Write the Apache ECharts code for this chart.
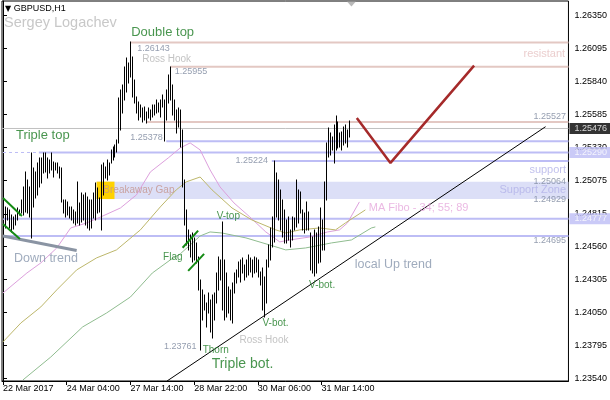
<!DOCTYPE html>
<html><head><meta charset="utf-8">
<script src="https://cdn.jsdelivr.net/npm/echarts@6/dist/echarts.min.js"></script>
<style>html,body{margin:0;padding:0;background:#fff}#c{width:610px;height:400px}</style>
</head><body><div id="c"></div>
<script>
// ---- data (GBPUSD H1, bar highs / lows) ----
const highs = [
1.24883,1.24868,1.24860,1.24845,1.24806,1.24790,1.24806,1.24860,1.24845,1.24922,
1.25023,1.25139,1.25077,1.25023,1.25286,1.25170,1.25139,1.25209,1.25248,1.25248,
1.25286,1.25286,1.25248,1.25232,1.25286,1.25217,1.25209,1.25209,1.25178,1.25170,
1.24922,1.24922,1.24907,1.24868,1.24868,1.24845,1.24829,1.25062,1.24899,1.24976,
1.24961,1.24976,1.24945,1.24922,1.24922,1.24976,1.25054,1.25015,1.24938,1.25193,
1.25209,1.25178,1.25232,1.25209,1.25310,1.25333,1.25348,1.25387,1.25713,1.25775,
1.25813,1.25953,1.26023,1.25984,1.26143,1.26030,1.25852,1.25720,1.25682,1.25658,
1.25635,1.25643,1.25604,1.25635,1.25620,1.25658,1.25658,1.25697,1.25674,1.25697,
1.25736,1.25697,1.25775,1.25891,1.25955,1.25813,1.25697,1.25620,1.25635,1.25620,
1.25465,1.25077,1.24845,1.24690,1.24651,1.24666,1.24628,1.24589,1.24480,1.24302,
1.24225,1.24186,1.24124,1.24201,1.24147,1.24186,1.24201,1.24356,1.24480,1.24457,
1.24752,1.24457,1.24356,1.24248,1.24225,1.24279,1.24356,1.24380,1.24442,1.24457,
1.24473,1.24418,1.24457,1.24496,1.24473,1.24457,1.24480,1.24473,1.24457,1.24364,
1.24395,1.24325,1.24457,1.24573,1.24705,1.24790,1.25224,1.25131,1.25077,1.25000,
1.24922,1.24845,1.24767,1.24790,1.24690,1.24790,1.24783,1.25077,1.25000,1.24984,
1.24845,1.24821,1.24907,1.24829,1.24666,1.24635,1.24690,1.24666,1.24713,1.24860,
1.24767,1.25062,1.25364,1.25480,1.25441,1.25410,1.25503,1.25573,1.25527,1.25441,
1.25449,1.25488,1.25503,1.25465,1.25534];
const lows = [
1.24783,1.24705,1.24767,1.24705,1.24674,1.24697,1.24728,1.24767,1.24806,1.24821,
1.24806,1.24829,1.24821,1.24790,1.24628,1.24868,1.24938,1.24961,1.25023,1.25054,
1.25131,1.25139,1.25093,1.25131,1.25155,1.25100,1.25155,1.25131,1.25093,1.24907,
1.24821,1.24790,1.24806,1.24783,1.24767,1.24744,1.24728,1.24744,1.24728,1.24752,
1.24767,1.24728,1.24705,1.24690,1.24705,1.24783,1.24767,1.24821,1.24829,1.24690,
1.24961,1.25093,1.25077,1.25116,1.25209,1.25232,1.25255,1.25294,1.25364,1.25465,
1.25596,1.25697,1.25759,1.25829,1.25875,1.25720,1.25674,1.25596,1.25542,1.25565,
1.25527,1.25542,1.25519,1.25558,1.25542,1.25565,1.25581,1.25596,1.25604,1.25565,
1.25643,1.25378,1.25542,1.25674,1.25697,1.25581,1.25542,1.25441,1.25488,1.25333,
1.25023,1.24728,1.24573,1.24535,1.24480,1.24442,1.24457,1.24434,1.24225,1.23761,
1.23992,1.24070,1.23938,1.24046,1.23899,1.23853,1.23992,1.24124,1.24225,1.24302,
1.24070,1.23992,1.24015,1.24046,1.23992,1.23969,1.24201,1.24279,1.24325,1.24287,
1.24356,1.24302,1.24325,1.24341,1.24364,1.24325,1.24356,1.24364,1.24325,1.24263,
1.24070,1.24015,1.24124,1.24403,1.24457,1.24558,1.24597,1.24790,1.24767,1.24690,
1.24635,1.24589,1.24589,1.24612,1.24558,1.24612,1.24690,1.24713,1.24744,1.24821,
1.24690,1.24666,1.24690,1.24690,1.24380,1.24356,1.24333,1.24356,1.24434,1.24442,
1.24535,1.24535,1.24922,1.25255,1.25271,1.25310,1.25209,1.25310,1.25325,1.25333,
1.25310,1.25348,1.25364,1.25333,1.25410];
const lastPrice = 1.25476;

const tickIdx = [0, 32, 64, 96, 128, 160];
const tickLabels = ['22 Mar 2017', '24 Mar 04:00', '27 Mar 14:00', '28 Mar 22:00', '30 Mar 06:00', '31 Mar 14:00'];
const priceTicks = [1.23540, 1.23795, 1.24050, 1.24305, 1.24560, 1.24815, 1.25075, 1.25330, 1.25585, 1.25840, 1.26095, 1.26350];

// moving averages 34 / 55 / 89 : [barIndex, price]
const ma34 = [[0,1.24201],[12,1.24356],[19,1.24434],[27,1.24550],[34,1.24705],[42,1.24744],[49,1.24790],[59,1.24860],[67,1.24961],[74,1.25139],[83,1.25248],[89,1.25325],[94,1.25364],[99,1.25310],[104,1.25155],[109,1.25023],[116,1.24899],[124,1.24790],[132,1.24674],[139,1.24597],[144,1.24612],[154,1.24635],[163,1.24674],[169,1.24690],[173,1.24744],[179,1.24907]];
const ma55 = [[0,1.23822],[9,1.23969],[19,1.24093],[27,1.24225],[37,1.24380],[47,1.24473],[57,1.24535],[69,1.24690],[79,1.24868],[87,1.25000],[92,1.25062],[99,1.25100],[105,1.25000],[115,1.24860],[125,1.24767],[137,1.24690],[142,1.24666],[149,1.24690],[159,1.24705],[167,1.24690],[172,1.24744],[182,1.24845]];
const ma89 = [[10,1.23527],[24,1.23705],[40,1.23938],[52,1.24046],[64,1.24170],[75,1.24356],[84,1.24457],[89,1.24504],[94,1.24573],[99,1.24643],[104,1.24674],[110,1.24666],[122,1.24628],[134,1.24573],[142,1.24535],[152,1.24550],[165,1.24589],[175,1.24612],[185,1.24705],[187,1.24713]];

// horizontal levels: [startIndex, price]
const resistLevels = [[64, 1.26143], [84, 1.25955], [72, 1.25527]];
const supportLevels = [[82, 1.25378], [18, 1.25290], [135, 1.25224], [0, 1.24777], [0, 1.24643]];
const dashedLevel = [0, 18, 1.25290];
const zone = [47, 1.25064, 1.24929];
const gapEnd = 56;

// drawn lines
const upTrend = [[82.4, 1.23519], [272.5, 1.25490]];
const downTrend = [[0, 1.24643], [37, 1.24531]];
const projection = [[177.7, 1.25557], [194.6, 1.25209], [236.6, 1.25963]];
const channelA = [[0, 1.24938], [9.5, 1.24798]];
const channelB = [[0, 1.24736], [8.5, 1.24620]];
const flagA = [[90.2, 1.24552], [98, 1.24684]];
const flagB = [[93, 1.24372], [101, 1.24504]];

// text notes: [index, price, text, style, anchor('l' left edge / 'r' right edge)]
const notes = [
  [64.4, 1.26224, 'Double top', 'g13', 'l'],
  [67.4, 1.26092, '1.26143', 'p', 'l'],
  [69.9, 1.26015, 'Ross Hook', 'rh', 'l'],
  [86.3, 1.25914, '1.25955', 'p', 'l'],
  [282.3, 1.26054, 'resistant', 'res', 'r'],
  [282.8, 1.25565, '1.25527', 'p', 'r'],
  [6.5, 1.25426, 'Triple top', 'g13', 'l'],
  [63.9, 1.25403, '1.25378', 'p', 'l'],
  [116.8, 1.25224, '1.25224', 'p', 'l'],
  [282.8, 1.25155, 'support', 'sup', 'r'],
  [282.8, 1.25062, '1.25064', 'p', 'r'],
  [50.4, 1.25000, 'Breakaway Gap', 'gap', 'l'],
  [282.8, 1.25000, 'Support Zone', 'sup', 'r'],
  [282.8, 1.24922, '1.24929', 'p', 'r'],
  [183.7, 1.24860, 'MA Fibo - 34; 55; 89', 'ma', 'l'],
  [107.3, 1.24798, 'V-top', 'g10', 'l'],
  [282.8, 1.24604, '1.24695', 'p', 'r'],
  [80.4, 1.24480, 'Flag', 'g10', 'l'],
  [5.5, 1.24465, 'Down trend', 'tr', 'l'],
  [176.7, 1.24418, 'local Up trend', 'tr', 'l'],
  [153.7, 1.24263, 'V-bot.', 'g10', 'l'],
  [130.3, 1.23969, 'V-bot.', 'g10', 'l'],
  [118.8, 1.23837, 'Ross Hook', 'rh', 'l'],
  [80.9, 1.23783, '1.23761', 'p', 'l'],
  [100.3, 1.23760, 'Thorn', 'g10', 'l'],
  [104.8, 1.23651, 'Triple bot.', 'g14', 'l']
];

// right-axis price boxes: [price, background]
const priceBoxes = [[lastPrice, '#000000'], [1.25290, '#bdbdf5'], [1.24777, '#bdbdf5']];

// ---- chart ----
const X_MAX = 284;
const FONT = '"Liberation Sans", Arial, sans-serif';
const styles = {
  g13: {color: '#1a7a22', fontSize: 13},
  g14: {color: '#1a7a22', fontSize: 14},
  g10: {color: '#1a7a22', fontSize: 10},
  p:   {color: '#7a869c', fontSize: 9},
  rh:  {color: '#b4b4b4', fontSize: 10},
  res: {color: '#e6c2c2', fontSize: 11},
  sup: {color: '#b2b2e8', fontSize: 11},
  gap: {color: '#c4948c', fontSize: 10},
  ma:  {color: '#e6a8dc', fontSize: 11},
  tr:  {color: '#8796ad', fontSize: 12.5}
};

function seg(data, color, width, z, type) {
  return {type: 'line', data: data, symbol: 'none', silent: true, animation: false, z: z,
    lineStyle: {color: color, width: width, type: type || 'solid'}};
}

const series = [];
series.push({type: 'line', data: [], silent: true, z: 1, animation: false,
  markArea: {silent: true, animation: false, data: [
    [{coord: [zone[0], zone[1]], itemStyle: {color: '#dcdff7'}}, {coord: [X_MAX, zone[2]]}],
    [{coord: [zone[0], zone[1]], itemStyle: {color: '#ffd200'}}, {coord: [gapEnd, zone[2]]}]
  ]}});
resistLevels.forEach(l => series.push(seg([[l[0], l[1]], [X_MAX, l[1]]], '#e3c8c3', 2, 2)));
supportLevels.forEach(l => series.push(seg([[l[0], l[1]], [X_MAX, l[1]]], '#bdbdf5', 2, 2)));
series.push(seg([[dashedLevel[0], dashedLevel[2]], [dashedLevel[1], dashedLevel[2]]], '#bdbdf5', 1, 2, [3, 3]));
series.push(seg([[-0.5, lastPrice], [X_MAX, lastPrice]], '#c0c0c0', 1, 2));

series.push(seg(ma34, '#dda0dd', 1, 3));
series.push(seg(ma55, '#bdb76b', 1, 3));
series.push(seg(ma89, '#8fbc8f', 1, 3));

series.push({type: 'custom', z: 4, silent: true, animation: false, clip: true,
  data: highs.map((h, i) => [i, lows[i], h]),
  renderItem: function (params, api) {
    const lo = api.coord([api.value(0), api.value(1)]);
    const hi = api.coord([api.value(0), api.value(2)]);
    const x = Math.round(lo[0]) + 0.5;
    return {type: 'line', shape: {x1: x, y1: Math.round(lo[1]) + 0.5, x2: x, y2: Math.round(hi[1]) - 0.5},
      style: {stroke: '#000', lineWidth: 1}};
  }});

series.push(seg(upTrend, '#000', 1, 5));
series.push(seg(downTrend, '#8a94a3', 3, 5));
series.push(seg(projection, '#a52a2a', 2.5, 5));
[channelA, channelB, flagA, flagB].forEach(d => series.push(seg(d, '#138a13', 2, 5)));

series.push({type: 'scatter', symbolSize: 0, silent: true, animation: false, z: 6,
  data: notes.map(n => ({value: [n[0], n[1]],
    label: Object.assign({show: true, formatter: n[2], position: n[4] === 'r' ? 'left' : 'right',
      distance: 0, fontFamily: FONT}, styles[n[3]])}))});

series.push({type: 'scatter', symbolSize: 0, silent: true, animation: false, z: 10, clip: false,
  data: priceBoxes.map(b => ({value: [X_MAX, b[0]],
    label: {show: true, position: 'right', distance: 1, formatter: b[0].toFixed(5), color: '#fff',
      backgroundColor: b[1], fontSize: 9, fontFamily: FONT, padding: [1, 4, 0, 5], lineHeight: 10}}))});

// chart-shift marker
series.push({type: 'scatter', silent: true, animation: false, z: 6, symbol: 'triangle', symbolRotate: 180,
  symbolSize: [9, 5], symbolOffset: [0, 3], itemStyle: {color: '#a8a8a8'},
  data: [[highs.length, 1.26464]]});

const chart = echarts.init(document.getElementById('c'));
chart.setOption({
  animation: false,
  backgroundColor: '#fff',
  title: [
    {text: '{t|▼} GBPUSD,H1', left: 5, top: 4, padding: 0,
      textStyle: {fontSize: 9, color: '#000', fontWeight: 'normal', fontFamily: FONT,
        rich: {t: {fontSize: 8, fontFamily: 'DejaVu Sans', color: '#000'}}}},
    {text: 'Sergey Logachev', left: 4, top: 15, padding: 0,
      textStyle: {fontSize: 14.5, color: '#c8c8c8', fontWeight: 'normal', fontFamily: FONT}}
  ],
  grid: {left: 1, right: 39, top: 1, bottom: 19, show: true, borderColor: '#000', borderWidth: 1, containLabel: false},
  xAxis: {type: 'value', min: -0.5, max: X_MAX,
    axisLine: {show: true, lineStyle: {color: '#000'}},
    axisTick: {show: true, length: 4, lineStyle: {color: '#000'}, customValues: tickIdx},
    axisLabel: {customValues: tickIdx, formatter: v => tickLabels[tickIdx.indexOf(v)], align: 'left',
      margin: 3, color: '#000', fontSize: 9, fontFamily: FONT},
    splitLine: {show: false}},
  yAxis: {type: 'value', position: 'right', min: 1.23519, max: 1.26464,
    axisLine: {show: true, lineStyle: {color: '#000'}},
    axisTick: {show: true, length: 4, lineStyle: {color: '#000'}, customValues: priceTicks},
    axisLabel: {customValues: priceTicks, formatter: v => v.toFixed(5), color: '#000', fontSize: 9,
      fontFamily: FONT, margin: 6},
    splitLine: {show: false}},
  series: series
});
</script></body></html>
